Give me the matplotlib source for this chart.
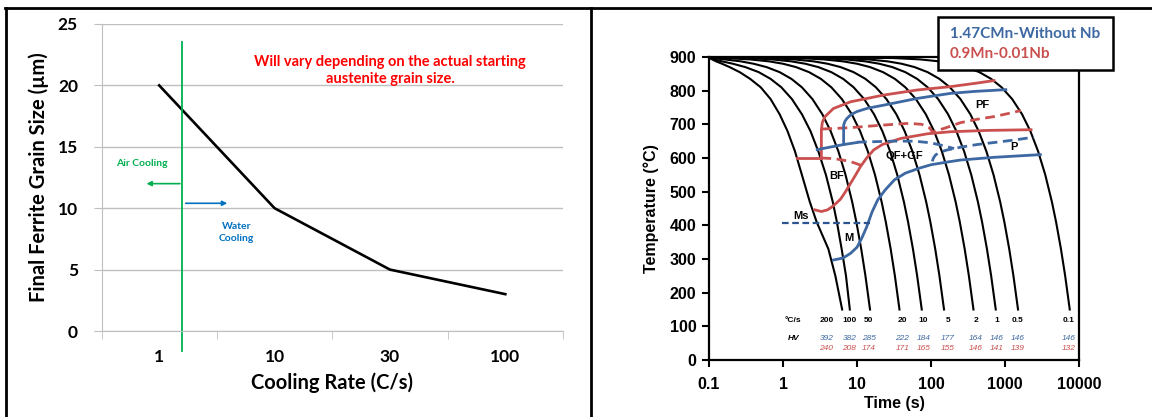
import numpy as np
import matplotlib.pyplot as plt
from matplotlib.lines import Line2D
from matplotlib.patches import Rectangle
from matplotlib.ticker import NullLocator

# ---- left chart: final ferrite grain size vs cooling rate ----
rate_labels = ['1', '10', '30', '100']
grain_size = [20, 10, 5, 3]
grain_yticks = [0, 5, 10, 15, 20, 25]
split_pos = 0.2          # air / water cooling boundary (category units)

# ---- right chart: CCT diagram ----
temp_levels = [900, 897, 893, 887, 880, 870, 855, 835, 810, 775, 730, 680,
               620, 550, 470, 410, 330, 250, 150]
cool_rates = ['200', '100', '50', '20', '10', '5', '2', '1', '0.5', '0.1']
cool_times = [
    [0.1, 0.102, 0.11, 0.125, 0.15, 0.19, 0.26, 0.36, 0.5, 0.68, 0.9, 1.15, 1.45, 1.8, 2.3, 2.85, 4.1, 5.1, 6.3],
    [0.1, 0.105, 0.115, 0.15, 0.21, 0.31, 0.47, 0.68, 0.95, 1.32, 1.8, 2.35, 3.0, 3.8, 4.7, 5.35, 6.2, 7.1, 8.0],
    [0.1, 0.11, 0.16, 0.27, 0.4, 0.6, 0.9, 1.3, 1.8, 2.5, 3.4, 4.4, 5.6, 7.0, 8.6, 9.8, 11.4, 13, 15],
    [0.1, 0.15, 0.35, 0.65, 1, 1.5, 2.25, 3.25, 4.5, 6.25, 8.5, 11, 14, 17.5, 21.5, 24.5, 28.5, 32.5, 37.5],
    [0.1, 0.3, 0.7, 1.3, 2, 3, 4.5, 6.5, 9, 12.5, 17, 22, 28, 35, 43, 49, 57, 65, 75],
    [0.1, 0.6, 1.4, 2.6, 4, 6, 9, 13, 18, 25, 34, 44, 56, 70, 86, 98, 114, 130, 150],
    [0.1, 1.5, 3.5, 6.5, 10, 15, 22.5, 32.5, 45, 62.5, 85, 110, 140, 175, 215, 245, 285, 325, 375],
    [0.1, 3, 7, 13, 20, 30, 45, 65, 90, 125, 170, 220, 280, 350, 430, 490, 570, 650, 750],
    [0.1, 6, 14, 26, 40, 60, 90, 130, 180, 250, 340, 440, 560, 700, 860, 980, 1140, 1300, 1500],
    [0.1, 30, 70, 130, 200, 300, 450, 650, 900, 1250, 1700, 2200, 2800, 3500, 4300, 4900, 5700, 6500, 7500],
]
hv_base = ['392', '382', '285', '222', '184', '177', '164', '146', '146', '146']
hv_nb = ['240', '208', '174', '171', '165', '155', '146', '141', '139', '132']
label_t = [3.85, 7.9, 14.3, 41, 79, 168, 402, 774, 1490, 7330]

# transformation lines, 0.9Mn-0.01Nb (red)
red_fs_t = [3.3, 3.3, 3.4, 3.7, 4.8, 8.2, 23, 65, 184, 400, 710]
red_fs_T = [600, 683, 706, 723, 747, 767, 787, 802, 812, 822, 830]
red_bs_t = [2.7, 3.3, 4.0, 4.6, 5.2, 6.0, 7.0, 8.2, 9.6, 11.1, 13.5, 16.8, 22, 39, 90, 184, 600, 2250]
red_bs_T = [446, 441, 446, 455, 465, 478, 500, 525, 550, 574, 600, 624, 640, 658, 672, 678, 682, 684]
red_dlo_t = [1.56, 3.3, 5, 8, 11.5]
red_dlo_T = [600, 600, 598, 590, 578]
red_dup_t = [3.4, 8, 20, 50, 75, 95, 105, 160, 251, 420, 711, 1100, 1640]
red_dup_T = [686, 690, 697, 703, 700, 690, 677, 690, 705, 715, 723, 732, 741]

# transformation lines, 1.47CMn without Nb (blue)
blue_fs_t = [6.6, 6.6, 6.9, 7.35, 8.3, 10, 14, 23, 65, 184, 400, 1025]
blue_fs_T = [640, 698, 710, 718, 729, 738, 748, 757, 777, 792, 798, 803]
blue_low_t = [2.9, 4.5, 6.6, 10]
blue_low_T = [625, 633, 640, 646]
blue_d1_t = [10, 30, 60, 100, 150, 205]
blue_d1_T = [647, 650, 650, 645, 636, 628]
blue_d2_t = [104, 108, 115, 135, 166, 251, 420, 711, 1400, 2450]
blue_d2_T = [590, 600, 609, 618, 624, 632, 640, 646, 654, 662]
blue_bs_t = [4.8, 6.5, 8.2, 10, 11.5, 13.5, 16, 19, 24, 32, 45, 70, 100, 166, 251, 711, 3000]
blue_bs_T = [297, 303, 317, 335, 360, 395, 440, 475, 505, 535, 555, 570, 580, 588, 594, 602, 610]
ms_t = [0.97, 15]
ms_T = [408, 408]

RED = '#C9504E'
BLUE = '#3D68A2'
NAVY = '#2B5491'
CAL = ['Lato', 'DejaVu Sans']
ARI = ['Liberation Sans', 'DejaVu Sans']

W, H = 1152, 417
fig = plt.figure(figsize=(W / 100, H / 100), dpi=100)


def px_box(x0, y0, x1, y1):
    return [x0 / W, 1 - y1 / H, (x1 - x0) / W, (y1 - y0) / H]


# ================= left chart =================
ax1 = fig.add_axes(px_box(101.5, 24, 563, 331))
x = np.arange(len(rate_labels))
ax1.plot(x, grain_size, color='black', lw=1.9)
ax1.set_xlim(-0.5, len(rate_labels) - 0.5)
ax1.set_ylim(0, 25)
ax1.set_yticks(grain_yticks)
ax1.set_xticks(x, rate_labels)
ax1.set_xticks(np.arange(-0.5, len(rate_labels)), minor=True)
ax1.grid(axis='y', color='#BFBFBF', lw=1)
ax1.set_axisbelow(True)
for s in ['top', 'right']:
    ax1.spines[s].set_visible(False)
for s in ['left', 'bottom']:
    ax1.spines[s].set_color('#BFBFBF')
ax1.tick_params(axis='x', which='major', length=0, pad=13)
ax1.tick_params(axis='x', which='minor', length=6, color='#BFBFBF')
ax1.tick_params(axis='y', length=6, color='#BFBFBF', pad=11)
for lab in ax1.get_xticklabels() + ax1.get_yticklabels():
    lab.set_fontfamily(CAL)
    lab.set_fontweight('bold')
    lab.set_fontsize(12.5)
ax1.set_ylabel('Final Ferrite Grain Size (µm)', fontfamily=CAL, fontweight='bold',
               fontsize=14.5, labelpad=6)
ax1.set_xlabel('Cooling Rate (C/s)', fontfamily=CAL, fontweight='bold', fontsize=14.5,
               labelpad=5)

ax1.axvline(split_pos, ymin=-0.065, ymax=0.94, color='#00B050', lw=1.3, clip_on=False)
ax1.annotate('', xy=(split_pos - 0.31, 12.0), xytext=(split_pos - 0.02, 12.0),
             arrowprops=dict(arrowstyle='-|>', color='#00B050', lw=1.2, mutation_scale=7,
                             shrinkA=0, shrinkB=0))
ax1.annotate('', xy=(split_pos + 0.39, 10.4), xytext=(split_pos + 0.03, 10.4),
             arrowprops=dict(arrowstyle='-|>', color='#0070C0', lw=1.2, mutation_scale=7,
                             shrinkA=0, shrinkB=0))
ax1.text(split_pos - 0.35, 13.65, 'Air Cooling', color='#00B050', fontfamily=CAL,
         fontweight='bold', fontsize=7.5, ha='center', va='center')
ax1.text(split_pos + 0.47, 8.0, 'Water\nCooling', color='#0070C0', fontfamily=CAL,
         fontweight='bold', fontsize=7.5, ha='center', va='center', linespacing=1.4)
ax1.text(2.0, 21.2, 'Will vary depending on the actual starting\naustenite grain size.',
         color='#FF0000', fontfamily=CAL, fontweight='bold', fontsize=10.5,
         ha='center', va='center', linespacing=1.3)

# ================= right chart =================
ax2 = fig.add_axes(px_box(709, 57, 1079, 360))
for times in cool_times:
    ax2.plot(times, temp_levels, color='black', lw=1.5)

ax2.plot(red_fs_t, red_fs_T, color=RED, lw=2)
ax2.plot(red_bs_t, red_bs_T, color=RED, lw=2)
ax2.plot(red_dlo_t[:2], red_dlo_T[:2], color=RED, lw=2)
ax2.plot(red_dlo_t[1:], red_dlo_T[1:], color=RED, lw=2, dashes=(3.5, 2))
ax2.plot(red_dup_t, red_dup_T, color=RED, lw=2, dashes=(3.5, 2))

ax2.plot(blue_fs_t, blue_fs_T, color=BLUE, lw=2)
ax2.plot(blue_low_t, blue_low_T, color=BLUE, lw=2)
ax2.plot(blue_d1_t, blue_d1_T, color=BLUE, lw=2, dashes=(3.5, 2))
ax2.plot(blue_d2_t, blue_d2_T, color=BLUE, lw=2, dashes=(3.5, 2))
ax2.plot(blue_bs_t, blue_bs_T, color=BLUE, lw=2)
ax2.plot(ms_t, ms_T, color=NAVY, lw=1.6, dashes=(3, 1.6))

ax2.set_xscale('log')
ax2.set_xlim(0.1, 10000)
ax2.set_ylim(0, 900)
ax2.set_xticks([0.1, 1, 10, 100, 1000, 10000], ['0.1', '1', '10', '100', '1000', '10000'])
ax2.xaxis.set_minor_locator(NullLocator())
ax2.set_yticks(range(0, 901, 100))
for s in ax2.spines.values():
    s.set_linewidth(1.6)
ax2.tick_params(length=5, width=1.5, labelsize=11.5)
ax2.tick_params(axis='x', pad=7)
ax2.tick_params(axis='y', pad=4)
for lab in ax2.get_xticklabels() + ax2.get_yticklabels():
    lab.set_fontfamily(ARI)
    lab.set_fontweight('bold')
ax2.set_xlabel('Time (s)', fontfamily=ARI, fontweight='bold', fontsize=11.5, labelpad=3)
ax2.set_ylabel('Temperature (°C)', fontfamily=ARI, fontweight='bold', fontsize=11.5,
               labelpad=8)

lab_kw = dict(fontfamily=ARI, fontsize=8, fontweight='bold', ha='center', va='center')
ax2.text(1.75, 428, 'Ms', **lab_kw)
ax2.text(7.7, 361, 'M', **lab_kw)
ax2.text(5.25, 546, 'BF', **lab_kw)
ax2.text(43, 605, 'QF+GF', **lab_kw)
ax2.text(495, 757, 'PF', **lab_kw)
ax2.text(1327, 634, 'P', **lab_kw)

tab_kw = dict(fontfamily=ARI, fontsize=6, ha='center', va='center')
ax2.text(1.37, 116, '°C/s', fontweight='bold', **tab_kw)
ax2.text(1.38, 65, 'HV', fontweight='bold', style='italic', **tab_kw)
for t, r, hb, hn in zip(label_t, cool_rates, hv_base, hv_nb):
    ax2.text(t, 116, r, fontweight='bold', **tab_kw)
    ax2.text(t, 65, hb, color=BLUE, style='italic', **tab_kw)
    ax2.text(t, 33, hn, color=RED, style='italic', **tab_kw)

# legend box
fig.add_artist(Rectangle((938 / W, 1 - 70 / H), 175 / W, 53 / H, transform=fig.transFigure,
                         fc='white', ec='black', lw=1.8, zorder=10))
fig.text(950 / W, 1 - 34 / H, '1.47CMn-Without Nb', color=BLUE, fontfamily=CAL,
         fontweight='bold', fontsize=11, va='center', zorder=11)
fig.text(950 / W, 1 - 54 / H, '0.9Mn-0.01Nb', color=RED, fontfamily=CAL,
         fontweight='bold', fontsize=11, va='center', zorder=11)

# panel frame lines
tf = fig.transFigure
fig.add_artist(Line2D([5 / W, 1], [1 - 8 / H, 1 - 8 / H], color='black', lw=2, transform=tf))
fig.add_artist(Line2D([6 / W, 6 / W], [0, 1 - 8 / H], color='black', lw=2, transform=tf))
fig.add_artist(Line2D([591 / W, 591 / W], [0, 1 - 8 / H], color='black', lw=2, transform=tf))

fig.savefig('out.png', dpi=100)
